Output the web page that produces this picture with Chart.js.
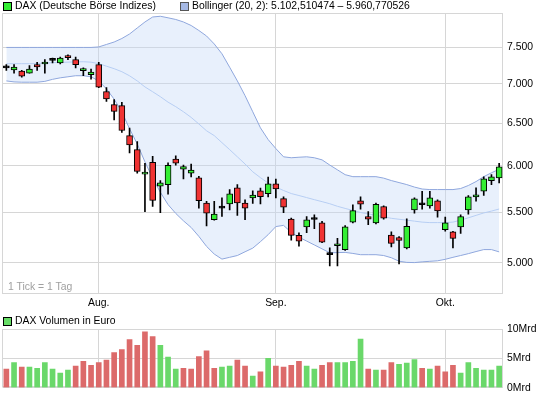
<!DOCTYPE html>
<html>
<head>
<meta charset="utf-8">
<script src="https://cdn.jsdelivr.net/npm/chart.js@4.4.1/dist/chart.umd.min.js"></script>
<style>
  body { margin: 0; width: 545px; height: 398px; position: relative; overflow: hidden; background: #fff;
         font-family: 'Liberation Sans', Arial, sans-serif; font-size: 10.4px; line-height: 12px; color: #000; }
  canvas { position: absolute; left: 0; }
  .txt { position: absolute; white-space: nowrap; z-index: 2; }
  .box { position: absolute; width: 7px; height: 7px; border: 1px solid #000; z-index: 2; }
</style>
</head>
<body>
<canvas id="priceChart" width="545" height="312" style="top:0"></canvas>
<canvas id="volChart" width="545" height="88" style="top:310px"></canvas>

<div class="box" style="left:3px;top:2px;background:#33ee33"></div>
<div class="txt" style="left:15px;top:0">DAX (Deutsche Börse Indizes)</div>
<div class="box" style="left:180px;top:2px;background:#a6b9e4;border-color:#555"></div>
<div class="txt" style="left:192px;top:0">Bollinger (20, 2): 5.102,510474 – 5.960,770526</div>
<div class="txt" style="left:8px;top:281px;color:#a0a0a0">1 Tick = 1 Tag</div>
<div class="box" style="left:3px;top:317px;background:#66dd66"></div>
<div class="txt" style="left:15px;top:315px">DAX Volumen in Euro</div>

<script>
// trading days 14.07.2011 - 12.10.2011
const days = [
  '14.07.','15.07.','18.07.','19.07.','20.07.','21.07.','22.07.','25.07.','26.07.','27.07.','28.07.','29.07.',
  '01.08.','02.08.','03.08.','04.08.','05.08.','08.08.','09.08.','10.08.','11.08.','12.08.','15.08.','16.08.',
  '17.08.','18.08.','19.08.','22.08.','23.08.','24.08.','25.08.','26.08.','29.08.','30.08.','31.08.',
  '01.09.','02.09.','05.09.','06.09.','07.09.','08.09.','09.09.','12.09.','13.09.','14.09.','15.09.','16.09.',
  '19.09.','20.09.','21.09.','22.09.','23.09.','26.09.','27.09.','28.09.','29.09.','30.09.',
  '03.10.','04.10.','05.10.','06.10.','07.10.','10.10.','11.10.','12.10.'
];
const monthTicks = { '01.08.': 'Aug.', '01.09.': 'Sep.', '03.10.': 'Okt.' };
const priceTicks = [5000, 5500, 6000, 6500, 7000, 7500];
const volTicks = [0, 5, 10];

const open = [7214,7186,7173,7145,7259,7268,7318,7282,7377,7327,7177,7122,7259,6901,6732,6720,6351,6186,5908,6041,5774,5790,6078,5963,5919,5865,5595,5422,5541,5585,5757,5595,5649,5724,5695,5801,5641,5428,5264,5349,5424,5389,5076,5162,5125,5397,5618,5454,5389,5558,5267,5241,5142,5522,5576,5565,5618,5321,5300,5349,5522,5660,5720,5836,5865];
const high = [7259,7259,7181,7245,7290,7327,7350,7364,7395,7364,7214,7200,7290,6952,6796,6762,6441,6281,6029,6107,5836,6033,6115,6009,6019,5884,5613,5613,5649,5738,5792,5627,5725,5754,5874,5852,5660,5438,5290,5454,5471,5405,5142,5234,5362,5576,5660,5504,5595,5565,5300,5251,5431,5649,5720,5720,5627,5448,5305,5471,5674,5757,5876,5901,6029];
const low = [7181,7145,7091,7145,7181,7145,7282,7268,7327,7214,7109,7064,6950,6774,6542,6389,6147,5919,5504,5558,5494,5688,6009,5854,5876,5541,5359,5418,5454,5522,5466,5422,5590,5584,5660,5649,5494,5217,5158,5290,5330,5192,4969,4969,5118,5389,5531,5372,5379,5428,5152,4988,5132,5488,5531,5541,5448,5305,5142,5283,5478,5613,5674,5792,5811];
const close = [7214,7227,7104,7200,7227,7295,7318,7348,7356,7259,7200,7159,6957,6805,6647,6413,6241,5938,5930,5623,5811,6007,6029,5992,5952,5620,5488,5479,5541,5692,5595,5541,5679,5663,5801,5746,5551,5264,5207,5420,5424,5197,5076,5182,5349,5515,5582,5428,5582,5438,5185,5214,5355,5638,5576,5649,5511,5389,5234,5454,5660,5682,5854,5876,5990];
const prevClose = 7229;

const bbUpper = [7498,7498,7498,7498,7498,7498,7498,7498,7498,7498,7498,7498,7505,7540,7575,7625,7690,7778,7866,7940,7951,7928,7903,7866,7814,7741,7661,7547,7409,7224,7040,6847,6643,6445,6304,6198,6103,6092,6098,6103,6092,6068,6009,5955,5901,5879,5879,5879,5879,5863,5836,5814,5792,5765,5744,5738,5738,5738,5738,5749,5782,5825,5879,5922,5961];
const bbMiddle = [7272,7272,7272,7272,7275,7279,7286,7290,7293,7297,7299,7293,7272,7238,7204,7163,7108,7040,6961,6898,6834,6764,6707,6643,6573,6492,6409,6351,6268,6186,6103,6021,5933,5868,5809,5765,5728,5695,5674,5652,5630,5609,5587,5560,5538,5517,5496,5481,5466,5451,5436,5426,5417,5407,5397,5392,5392,5392,5397,5417,5441,5466,5491,5510,5532];
const bbLower = [7040,7027,7023,7023,7023,7034,7061,7081,7095,7109,7109,7095,7040,6935,6802,6643,6433,6252,6045,5863,5709,5578,5486,5410,5343,5254,5156,5082,5034,5051,5068,5104,5139,5202,5271,5352,5364,5293,5246,5208,5170,5132,5094,5096,5098,5088,5076,5076,5076,5068,5047,5014,5003,5001,5008,5013,5018,5032,5051,5068,5086,5106,5125,5125,5103];

// Volumen in Mrd Euro
const volume = [3.2,4.3,3.5,3.5,3.3,4.3,3.2,2.5,3.0,3.7,4.5,3.8,4.3,4.7,6.0,6.5,8.2,7.2,9.5,8.7,7.2,5.2,3.2,3.3,3.2,5.3,6.3,3.3,3.5,3.7,4.7,3.7,2.0,2.7,5.0,3.7,3.5,3.8,4.5,3.7,3.2,3.8,4.3,4.3,4.3,4.5,8.3,3.2,3.0,3.0,4.3,4.0,4.2,4.8,3.3,3.2,3.7,2.7,3.8,2.5,4.3,3.3,3.0,3.0,3.7];

Chart.defaults.font.family = "'Liberation Sans', Arial, sans-serif";
Chart.defaults.font.size = 10.4;
Chart.defaults.color = '#000';

const gridColor = '#d6d6d6';
const deNum = v => String(v).replace(/\B(?=(\d{3})+(?!\d))/g, '.');

const bodyColors = open.map((o, i) => close[i] > o ? '#33ee33' : (close[i] < o ? '#f03333' : '#000'));
const volColors = close.map((c, i) => c >= (i ? close[i - 1] : prevClose) ? '#6ad86a' : '#dc6a6a');

// frame round the plot area
const frame = {
    id: 'frame',
    beforeDatasetsDraw(chart) {
        const a = chart.chartArea, ctx = chart.ctx;
        const l = Math.floor(a.left) + 0.5, r = Math.floor(a.right) - 0.5;
        const t = Math.floor(a.top) + 0.5, b = Math.floor(a.bottom) - 0.5;
        ctx.save();
        ctx.strokeStyle = gridColor;
        ctx.lineWidth = 1;
        ctx.strokeRect(l, t, r - l, b - t);
        ctx.restore();
    }
};

function monthAxis(showLabels, height) {
    return {
        type: 'category',
        offset: true,
        grid: { color: gridColor, offset: false, drawTicks: false },
        border: { display: false },
        ticks: {
            display: showLabels, autoSkip: false, maxRotation: 0, padding: 3,
            callback: v => monthTicks[days[v]]
        },
        afterBuildTicks: s => { s.ticks = s.ticks.filter(t => monthTicks[days[t.value]]); },
        afterFit: s => { s.height = height; }
    };
}

new Chart(document.getElementById('priceChart').getContext('2d'), {
    type: 'bar',
    data: {
        labels: days,
        datasets: [
            { type: 'line', data: bbUpper, borderColor: '#8fa7dd', borderWidth: 1, pointRadius: 0, fill: false, order: 3 },
            { type: 'line', data: bbLower, borderColor: '#8fa7dd', borderWidth: 1, pointRadius: 0, fill: '-1',
              backgroundColor: 'rgba(198,218,248,0.4)', order: 3 },
            { type: 'line', data: bbMiddle, borderColor: '#b7cef3', borderWidth: 1, pointRadius: 0, fill: false, order: 2 },
            { data: days.map((d, i) => [low[i], high[i]]), backgroundColor: '#000', barThickness: 1, grouped: false, order: 1 },
            { data: days.map((d, i) => [open[i], close[i]]), backgroundColor: bodyColors, borderColor: '#000',
              borderWidth: 1, borderSkipped: false, barThickness: 6, minBarLength: 2, grouped: false, order: 0 }
        ]
    },
    options: {
        responsive: false,
        animation: false,
        devicePixelRatio: 1,
        events: [],
        layout: { padding: { top: 13, left: 2.5, right: 0, bottom: 0 } },
        plugins: { legend: { display: false }, tooltip: { enabled: false } },
        scales: {
            x: monthAxis(true, 18),
            y: {
                type: 'logarithmic',
                position: 'right',
                min: 4714,
                max: 8000,
                grid: { color: gridColor, drawTicks: false },
                border: { display: false },
                ticks: { padding: 4, callback: v => deNum(v) },
                afterBuildTicks: s => { s.ticks = priceTicks.map(v => ({ value: v })); },
                afterFit: s => { s.width = 42; }
            }
        }
    },
    plugins: [frame]
});

new Chart(document.getElementById('volChart').getContext('2d'), {
    type: 'bar',
    data: {
        labels: days,
        datasets: [{ data: volume, backgroundColor: volColors, barThickness: 5 }]
    },
    options: {
        responsive: false,
        animation: false,
        devicePixelRatio: 1,
        events: [],
        layout: { padding: { top: 19, left: 2.5, right: 0, bottom: 9 } },
        plugins: { legend: { display: false }, tooltip: { enabled: false } },
        scales: {
            x: monthAxis(false, 0),
            y: {
                position: 'right',
                min: 0,
                max: 10,
                grid: { color: gridColor, drawTicks: false },
                border: { display: false },
                ticks: { padding: 4, callback: v => v + 'Mrd' },
                afterBuildTicks: s => { s.ticks = volTicks.map(v => ({ value: v })); },
                afterFit: s => { s.width = 42; }
            }
        }
    },
    plugins: [frame]
});
</script>
</body>
</html>
